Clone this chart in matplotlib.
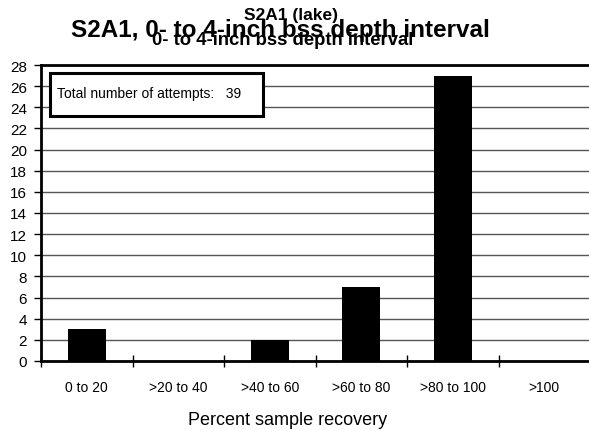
import matplotlib
matplotlib.use("Agg")
import matplotlib.pyplot as plt
from matplotlib.patches import Rectangle
from matplotlib.ticker import FixedLocator, NullFormatter
from matplotlib.transforms import ScaledTranslation

categories = ["0 to 20", ">20 to 40", ">40 to 60", ">60 to 80", ">80 to 100", ">100"]
counts = [3, 0, 2, 7, 27, 0]
yticks = list(range(0, 29, 2))
total_attempts = 39

plt.rcParams['font.family'] = ['Liberation Sans', 'DejaVu Sans']

W, H = 589, 431
fig = plt.figure(figsize=(W / 100, H / 100), dpi=100)
ax = fig.add_axes([41/W, 69/H, 549/W, 296/H])

x = list(range(len(categories)))
ax.bar(x, counts, width=0.42, color='black', zorder=3)
ax.set_xlim(-0.5, 5.5)
ax.set_ylim(0, 28)
ax.set_yticks(yticks)
ax.set_yticklabels([str(v) for v in yticks], fontsize=11)
for lbl in ax.get_yticklabels():
    lbl.set_transform(lbl.get_transform() + ScaledTranslation(0, -3/72, fig.dpi_scale_trans))
ax.set_xticks(x)
ax.set_xticklabels(categories, fontsize=10)
ax.tick_params(axis='x', which='major', length=0, pad=14)
ax.xaxis.set_minor_locator(FixedLocator([i - 0.5 for i in range(len(categories))]))
ax.xaxis.set_minor_formatter(NullFormatter())
ax.tick_params(axis='x', which='minor', direction='inout', length=8, width=1)
ax.tick_params(axis='y', direction='out', length=5, width=1, pad=5)

ax.yaxis.grid(True, color='#555555', linewidth=1.0, zorder=0)
ax.set_axisbelow(True)
for s in ['left', 'bottom', 'top']:
    ax.spines[s].set_linewidth(2)
    ax.spines[s].set_color('black')
ax.spines['right'].set_visible(False)

# x-axis title
fig.text(288/W, 1 - 425/H, "Percent sample recovery", fontsize=13,
         ha='center', va='baseline')

# text box
fig.patches.append(Rectangle((50/W, 1 - 117/H), (263-50)/W, (117-74)/H,
                             transform=fig.transFigure, facecolor='white',
                             edgecolor='black', linewidth=2.2, zorder=5))
fig.text(57/W, 1 - 98/H, f"Total number of attempts:   {total_attempts}",
         fontsize=10, va='baseline', ha='left', zorder=6)

fig.text(280.5/W, 1 - 37/H, "S2A1, 0- to 4-inch bss depth interval",
         fontsize=17.5, fontweight='bold', ha='center', va='baseline')
fig.text(291.5/W, 1 - 20/H, "S2A1 (lake)", fontsize=12.5, fontweight='bold',
         ha='center', va='baseline')
fig.text(283/W, 1 - 45/H, "0- to 4-inch bss depth interval", fontsize=13.3,
         fontweight='bold', ha='center', va='baseline')

fig.savefig("out.png", dpi=100)
